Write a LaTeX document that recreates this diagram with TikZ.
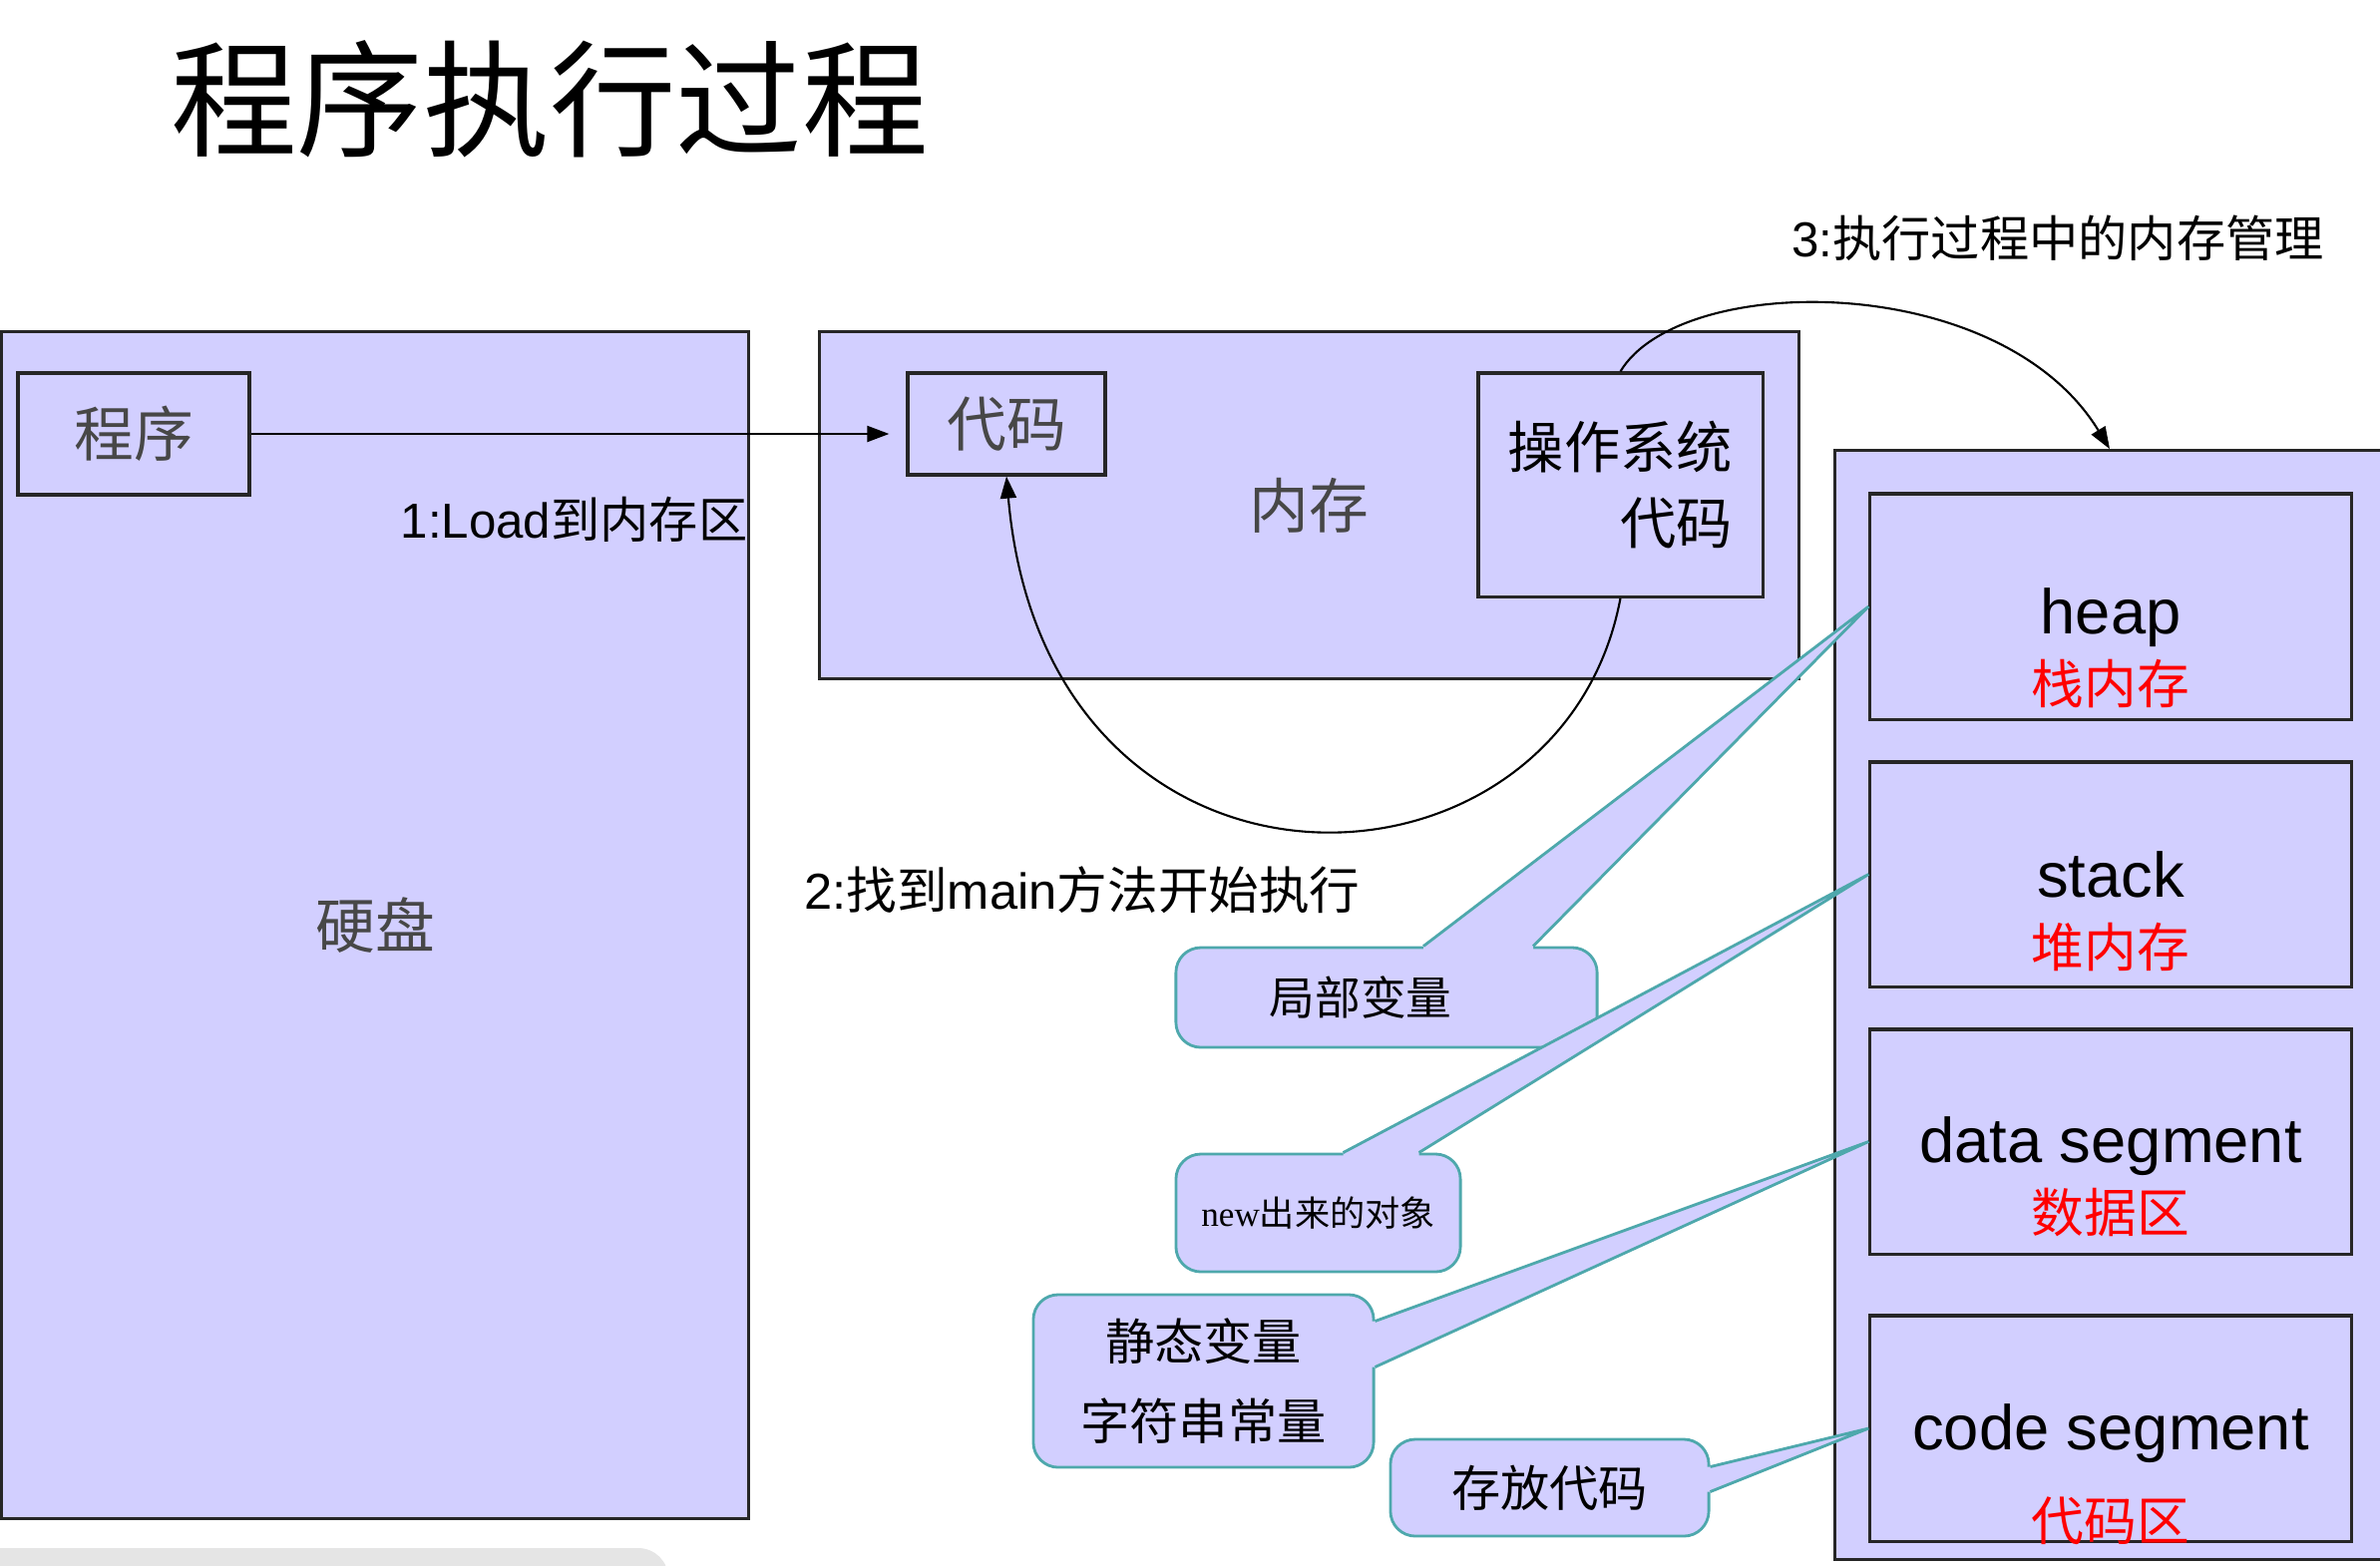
\documentclass[tikz,border=0pt]{standalone}
\usepackage{fontspec}
\setmainfont{Liberation Sans}
\newfontfamily\cjk{Noto Sans CJK SC}
\newfontfamily\serifen{Liberation Serif}
\usepackage{tikz}
\usetikzlibrary{arrows.meta,positioning,calc}
\definecolor{lav}{RGB}{210,207,255}
\definecolor{tealb}{RGB}{78,168,172}
\definecolor{grayshade}{RGB}{229,229,229}

\begin{document}
\begin{tikzpicture}[x=0.01cm,y=-0.01cm,
box/.style={draw=black!85,line width=0.9pt,fill=lav,inner sep=0pt},
graytxt/.style={text=black!72,font=\cjk\fontsize{17}{20}\selectfont},
segtxt/.style={inner sep=0pt,align=center,font=\fontsize{18}{20}\selectfont},
bubble/.style={draw=tealb,line width=0.8pt,fill=lav,rounded corners=0.25cm,inner sep=0pt,align=center},
wedge/.style={draw=tealb,line width=0.8pt},
lbl/.style={inner sep=0pt,font=\fontsize{14}{17}\selectfont},
arr/.style={line width=0.6pt,-{Triangle[length=0.22cm,width=0.16cm]}}]
\useasboundingbox (0,0) rectangle (2386,1569);
\fill[grayshade,rounded corners=0.3cm] (-40,1552) rectangle (670,1650);
% title
\node[inner sep=0pt,font=\cjk\fontsize{36}{40}\selectfont] (title) at (551,99) {程序执行过程};
% disk and memory
\node[box,graytxt,minimum width=7.48cm,minimum height=11.89cm] (disk) at (376,927.5) {硬盘};
\node[box,graytxt,minimum width=2.32cm,minimum height=1.22cm] (prog) at (134,435) {程序};
\node[box,graytxt,minimum width=9.81cm,minimum height=3.47cm] (mem) at (1312.5,506.5) {内存};
\node[box,graytxt,minimum width=1.98cm,minimum height=1.02cm] (code) at (1009,425) {代码};
\node[box,align=right,font=\cjk\fontsize{16}{21.7}\selectfont,minimum width=2.85cm,minimum height=2.24cm] (os) at (1624.5,486) {操作系统\\代码};
% runtime memory areas
\node[box,minimum width=5.5cm,minimum height=11.11cm] (mm) at (2115,1007.5) {};
\node[box,minimum width=4.82cm,minimum height=2.26cm] (heap) at (2116,608) {};
\node[box,minimum width=4.82cm,minimum height=2.25cm] (stack) at (2116,876.5) {};
\node[box,minimum width=4.82cm,minimum height=2.25cm] (data) at (2116,1144.5) {};
\node[box,minimum width=4.82cm,minimum height=2.26cm] (cseg) at (2116,1432) {};
\node[segtxt] (heapt) at ($(heap)+(0,42)$) {heap\\{\cjk\color{red}\fontsize{15}{20}\selectfont 栈内存}};
\node[segtxt] (stackt) at ($(stack)+(0,37)$) {stack\\{\cjk\color{red}\fontsize{15}{20}\selectfont 堆内存}};
\node[segtxt] (datat) at ($(data)+(0,35)$) {data segment\\{\cjk\color{red}\fontsize{15}{20}\selectfont 数据区}};
\node[segtxt] (csegt) at ($(cseg)+(0,46)$) {code segment\\[6pt]{\cjk\color{red}\fontsize{15}{20}\selectfont 代码区}};
% labels
\node[lbl,anchor=east] (loadlbl) at (750,521) {1:Load{\cjk 到内存区}};
\node[lbl,font=\fontsize{14.4}{17}\selectfont] (mainlbl) at (1085,892) {2:{\cjk 找到}main{\cjk 方法开始执行}};
\node[lbl] (mgrlbl) at (2063,239) {3:{\cjk 执行过程中的内存管理}};
% arrows
\draw[arr,shorten >=0.17cm] (prog.east) -- (prog.east -| code.west);
\draw[arr] (os.south) .. controls ($(os.south)+(-60,320)$) and ($(code.south)+(40,460)$) .. (code.south);
\draw[arr] (os.north) .. controls ($(os.north)+(60,-100)$) and ($(mm.north)+(-110,-180)$) .. (mm.north);
% callouts
\node[bubble,minimum width=4.22cm,minimum height=1cm,font=\cjk\fontsize{13}{16}\selectfont] (loc) at (1390,1000) {局部变量\hspace*{0.52cm}};
\fill[lav] ($(loc.north)+(37,0)$) -- (heap.west) -- ($(loc.north)+(147,0)$) -- ($(loc.north)+(147,8)$) -- ($(loc.north)+(37,8)$) -- cycle;
\draw[wedge] ($(loc.north)+(37,0)$) -- (heap.west) -- ($(loc.north)+(147,0)$);
\node[bubble,minimum width=2.85cm,minimum height=1.18cm,font=\fontsize{10}{12}\selectfont] (newobj) at (1321.5,1216) {{\serifen new}{\cjk 出来的对象}};
\fill[lav] ($(newobj.north)+(25,0)$) -- (stack.west) -- ($(newobj.north)+(101,0)$) -- ($(newobj.north)+(101,8)$) -- ($(newobj.north)+(25,8)$) -- cycle;
\draw[wedge] ($(newobj.north)+(25,0)$) -- (stack.west) -- ($(newobj.north)+(101,0)$);
\node[bubble,minimum width=3.41cm,minimum height=1.73cm,font=\cjk\fontsize{14}{23}\selectfont] (stat) at (1206.5,1384.5) {静态变量\\字符串常量};
\fill[lav] ($(stat.east)+(0,-60)$) -- (data.west) -- ($(stat.east)+(0,-14)$) -- ($(stat.east)+(-8,-14)$) -- ($(stat.east)+(-8,-60)$) -- cycle;
\draw[wedge] ($(stat.east)+(0,-60)$) -- (data.west) -- ($(stat.east)+(0,-14)$);
\node[bubble,minimum width=3.19cm,minimum height=0.97cm,font=\cjk\fontsize{14}{17}\selectfont] (store) at (1553.5,1491.5) {存放代码};
\fill[lav] ($(store.east)+(0,-21)$) -- (cseg.west) -- ($(store.east)+(0,4)$) -- ($(store.east)+(-8,4)$) -- ($(store.east)+(-8,-21)$) -- cycle;
\draw[wedge] ($(store.east)+(0,-21)$) -- (cseg.west) -- ($(store.east)+(0,4)$);
\end{tikzpicture}
\end{document}
